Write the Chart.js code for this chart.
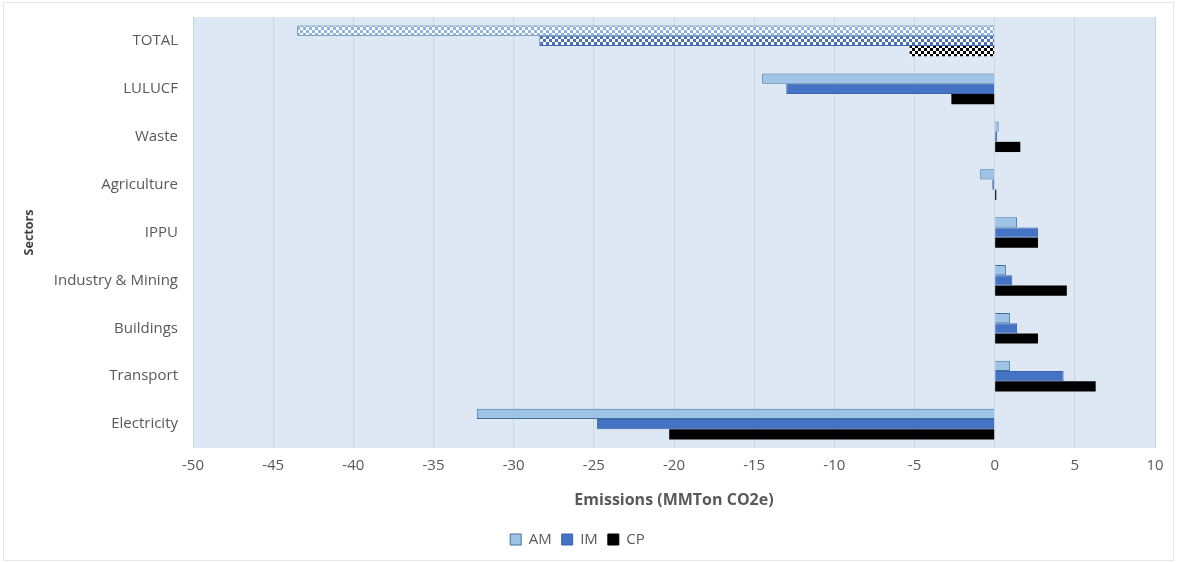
<!DOCTYPE html>
<html>
<head>
<meta charset="utf-8">
<script src="https://cdn.jsdelivr.net/npm/chart.js@4.4.0/dist/chart.umd.min.js"></script>
<style>
  html, body { margin: 0; padding: 0; background: #ffffff; }
  #wrap { width: 1180px; height: 563px; }
</style>
</head>
<body>
<div id="wrap"><canvas id="myChart" width="1180" height="563"></canvas></div>
<script>
// sectors, top to bottom
const sectors = ['TOTAL', 'LULUCF', 'Waste', 'Agriculture', 'IPPU', 'Industry & Mining', 'Buildings', 'Transport', 'Electricity']
// emissions change (MMTon CO2e) per scenario
const amValues = [-43.5, -14.5, 0.25, -0.9, 1.4, 0.7, 0.95, 0.95, -32.3]
const imValues = [-28.4, -13.0, 0.15, -0.15, 2.7, 1.1, 1.4, 4.3, -24.8]
const cpValues = [-5.3, -2.7, 1.6, 0.1, 2.7, 4.5, 2.7, 6.3, -20.3]
const xTicks = [-50, -45, -40, -35, -30, -25, -20, -15, -10, -5, 0, 5, 10]

const canvas = document.getElementById('myChart')
const ctx = canvas.getContext('2d')

// checkered fill for the TOTAL bars
function checker(color) {
  const c = document.createElement('canvas')
  c.width = 6
  c.height = 6
  const g = c.getContext('2d')
  g.fillStyle = '#ffffff'
  g.fillRect(0, 0, 6, 6)
  g.fillStyle = color
  g.fillRect(0, 0, 3, 3)
  g.fillRect(3, 3, 3, 3)
  return ctx.createPattern(c, 'repeat')
}

const amColor = '#9dc3e6'
const imColor = '#4472c4'
const cpColor = '#000000'
const amBorder = '#41719c'
const imBorder = '#3a64ad'
const amPattern = checker('#8fb4dc')
const imPattern = checker('#4a72b8')
const cpPattern = checker('#000000')

function fillFor(solid, pattern) {
  return function(c) { return c.dataIndex === 0 ? pattern : solid }
}

// light blue plot area + faint outer frame
const plotBg = {
  id: 'plotBg',
  beforeDraw(chart) {
    const a = chart.chartArea
    const g = chart.ctx
    g.save()
    g.fillStyle = '#ffffff'
    g.fillRect(0, 0, chart.width, chart.height)
    g.strokeStyle = '#e6e6e6'
    g.lineWidth = 1
    g.strokeRect(3.5, 2.5, chart.width - 10, chart.height - 5)
    g.fillStyle = '#dde8f4'
    g.fillRect(a.left, a.top, a.right - a.left, a.bottom - a.top)
    g.restore()
  }
}

const family = '"Open Sans", Lato, sans-serif'
const tickFont = { family: family, size: 15 }

new Chart(ctx, {
  type: 'bar',
  data: {
    labels: sectors,
    datasets: [
      { label: 'AM', data: amValues, backgroundColor: fillFor(amColor, amPattern), borderColor: amBorder, borderWidth: 1 },
      { label: 'IM', data: imValues, backgroundColor: fillFor(imColor, imPattern), borderColor: imBorder, borderWidth: 1 },
      { label: 'CP', data: cpValues, backgroundColor: fillFor(cpColor, cpPattern), borderColor: '#000000', borderWidth: 0 }
    ]
  },
  options: {
    indexAxis: 'y',
    responsive: false,
    animation: false,
    devicePixelRatio: 1,
    layout: { padding: { left: 0, right: 25, top: 17, bottom: 6 } },
    datasets: { bar: { categoryPercentage: 0.64, barPercentage: 1.0 } },
    scales: {
      x: {
        min: -50,
        max: 10,
        afterBuildTicks(scale) { scale.ticks = xTicks.map(v => ({ value: v })) },
        afterFit(scale) { scale.height = 74 },
        grid: { color: '#cbd6e3', drawTicks: false },
        border: { display: false },
        ticks: { color: '#595959', font: tickFont, padding: 9 },
        title: {
          display: true,
          text: 'Emissions (MMTon CO2e)',
          color: '#595959',
          font: { family: family, size: 16, weight: 'bold' },
          padding: { top: 3, bottom: 12 }
        }
      },
      y: {
        afterFit(scale) {
          scale.width = 193
          scale.paddingTop = 0
          scale.paddingBottom = 0
        },
        grid: { display: false, drawTicks: false },
        border: { display: false },
        ticks: { color: '#595959', font: tickFont, padding: 15 },
        title: {
          display: true,
          text: 'Sectors',
          color: '#404040',
          font: { family: family, size: 12.5, weight: 'bold' },
          padding: { top: 22, bottom: 0 }
        }
      }
    },
    plugins: {
      legend: {
        position: 'bottom',
        labels: {
          color: '#595959',
          font: { family: family, size: 15 },
          boxWidth: 11,
          boxHeight: 11,
          padding: 10,
          generateLabels(chart) {
            const fills = [amColor, imColor, cpColor]
            const lines = [amBorder, imBorder, '#000000']
            return chart.data.datasets.map((ds, i) => ({
              text: ds.label,
              fillStyle: fills[i],
              strokeStyle: lines[i],
              lineWidth: 1,
              fontColor: '#595959',
              hidden: false,
              datasetIndex: i
            }))
          }
        }
      },
      tooltip: { enabled: false }
    }
  },
  plugins: [plotBg]
})
</script>
</body>
</html>
